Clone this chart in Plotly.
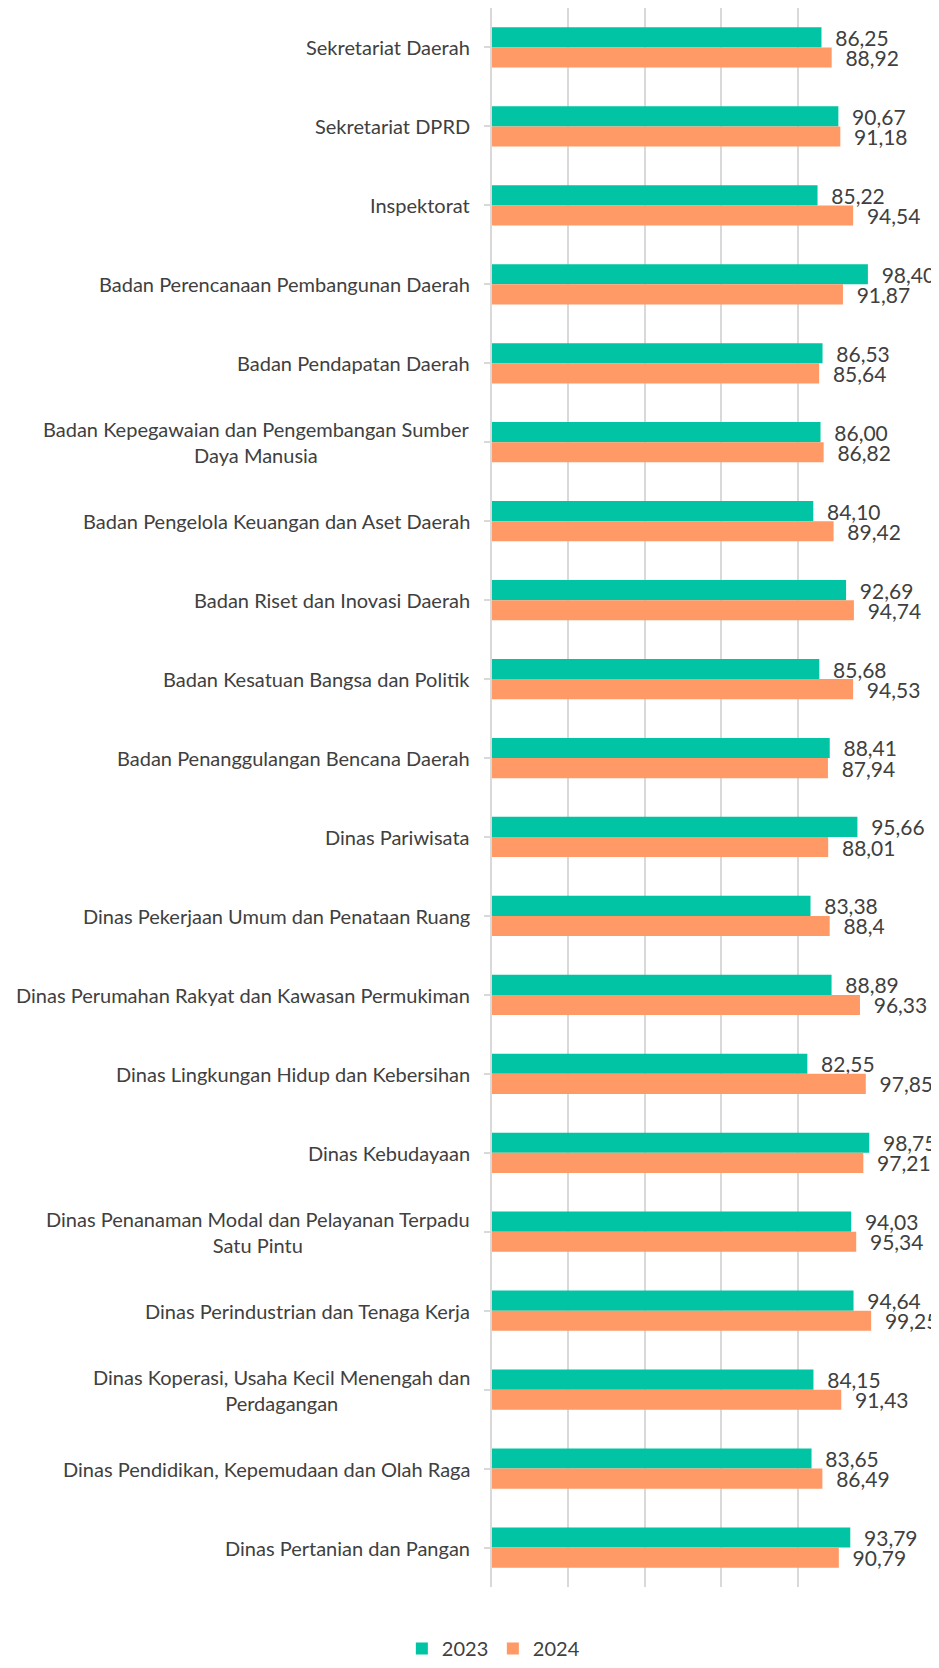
import plotly.graph_objects as go

categories = [
    "Sekretariat Daerah",
    "Sekretariat DPRD",
    "Inspektorat",
    "Badan Perencanaan Pembangunan Daerah",
    "Badan Pendapatan Daerah",
    "Badan Kepegawaian dan Pengembangan Sumber<br>Daya Manusia",
    "Badan Pengelola Keuangan dan Aset Daerah",
    "Badan Riset dan Inovasi Daerah",
    "Badan Kesatuan Bangsa dan Politik",
    "Badan Penanggulangan Bencana Daerah",
    "Dinas Pariwisata",
    "Dinas Pekerjaan Umum dan Penataan Ruang",
    "Dinas Perumahan Rakyat dan Kawasan Permukiman",
    "Dinas Lingkungan Hidup dan Kebersihan",
    "Dinas Kebudayaan",
    "Dinas Penanaman Modal dan Pelayanan Terpadu<br>Satu Pintu",
    "Dinas Perindustrian dan Tenaga Kerja",
    "Dinas Koperasi, Usaha Kecil Menengah dan<br>Perdagangan",
    "Dinas Pendidikan, Kepemudaan dan Olah Raga",
    "Dinas Pertanian dan Pangan",
]

values_2023 = [86.25, 90.67, 85.22, 98.40, 86.53, 86.00, 84.10, 92.69, 85.68, 88.41,
               95.66, 83.38, 88.89, 82.55, 98.75, 94.03, 94.64, 84.15, 83.65, 93.79]
values_2024 = [88.92, 91.18, 94.54, 91.87, 85.64, 86.82, 89.42, 94.74, 94.53, 87.94,
               88.01, 88.4, 96.33, 97.85, 97.21, 95.34, 99.25, 91.43, 86.49, 90.79]
labels_2023 = ["86,25", "90,67", "85,22", "98,40", "86,53", "86,00", "84,10", "92,69", "85,68", "88,41",
               "95,66", "83,38", "88,89", "82,55", "98,75", "94,03", "94,64", "84,15", "83,65", "93,79"]
labels_2024 = ["88,92", "91,18", "94,54", "91,87", "85,64", "86,82", "89,42", "94,74", "94,53", "87,94",
               "88,01", "88,4", "96,33", "97,85", "97,21", "95,34", "99,25", "91,43", "86,49", "90,79"]

x_ticks = [0, 20, 40, 60, 80, 100]

GREEN = "#00C4A3"
ORANGE = "#FF9966"
TXT = "#404040"
FONT = "Lato"
FS = 20
FS_LBL = 21

cat_ids = list(range(len(categories)))

fig = go.Figure()
fig.add_trace(go.Bar(
    name="2023", y=cat_ids, x=values_2023, orientation="h",
    marker=dict(color=GREEN, line=dict(width=0)),
    text=["\u00a0\u00a0" + t for t in labels_2023], textposition="outside",
    textfont=dict(family=FONT, size=FS_LBL, color=TXT), cliponaxis=False,
    constraintext="none",
))
fig.add_trace(go.Bar(
    name="2024", y=cat_ids, x=values_2024, orientation="h",
    marker=dict(color=ORANGE, line=dict(width=0)),
    text=["\u00a0\u00a0" + t for t in labels_2024], textposition="outside",
    textfont=dict(family=FONT, size=FS_LBL, color=TXT), cliponaxis=False,
    constraintext="none",
))

for i, c in enumerate(categories):
    fig.add_annotation(
        x=-0.052, xref="paper", y=i, yref="y",
        text=c, showarrow=False, xanchor="right", yanchor="middle",
        align="center", font=dict(family=FONT, size=FS, color=TXT),
    )

fig.update_layout(
    width=931, height=1660,
    margin=dict(l=484, r=65, t=0, b=72, pad=0),
    paper_bgcolor="white", plot_bgcolor="white",
    barmode="group", bargap=0.49, bargroupgap=0,
    showlegend=True,
    legend=dict(orientation="h", x=-0.236, xanchor="left", y=-0.039, yanchor="middle",
                font=dict(family=FONT, size=FS, color=TXT), itemwidth=30,
                entrywidth=46, traceorder="normal"),
    font=dict(family=FONT, size=FS, color=TXT),
)
fig.update_xaxes(range=[0, 100], tickvals=x_ticks, showticklabels=False,
                 showgrid=True, gridcolor="#D9D9D9", gridwidth=1.5,
                 zeroline=False, showline=False)
fig.update_yaxes(range=[len(categories) - 0.5, -0.5], tickvals=cat_ids,
                 showticklabels=False, showgrid=False, zeroline=False,
                 showline=True, linecolor="#D9D9D9", linewidth=1.5,
                 ticks="outside", ticklen=6, tickcolor="#D9D9D9", tickwidth=1.5,
                 tickson="boundaries")

fig.write_html("out.html")
